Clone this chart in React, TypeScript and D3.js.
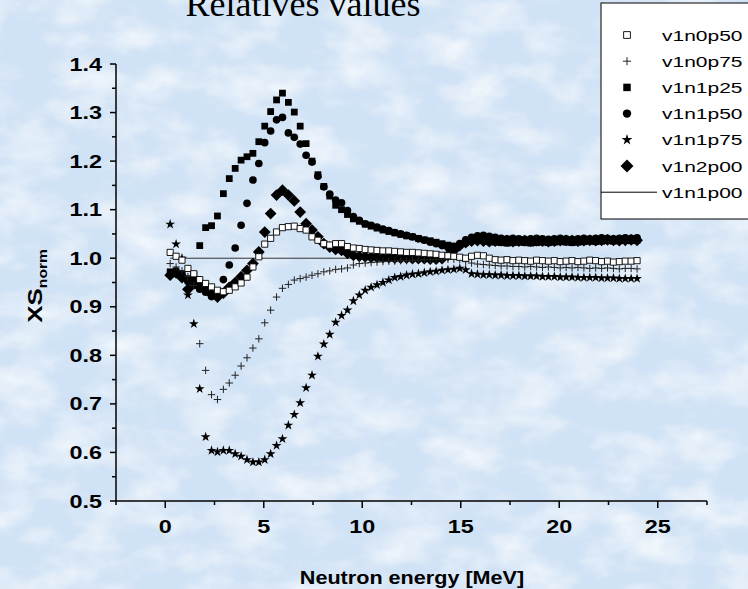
import React from "react";
import * as d3 from "d3";

// Neutron energy grid [MeV]
const energies = [
  0.25, 0.55, 0.85, 1.15, 1.45, 1.75, 2.05, 2.35, 2.65, 2.95,
  3.25, 3.55, 3.85, 4.15, 4.45, 4.75, 5.05, 5.35, 5.65, 5.95,
  6.25, 6.55, 6.85, 7.15, 7.45, 7.75, 8.05, 8.35, 8.65, 8.95,
  9.25, 9.55, 9.85, 10.15, 10.45, 10.75, 11.05, 11.35, 11.65, 11.95,
  12.25, 12.55, 12.85, 13.15, 13.45, 13.75, 14.05, 14.35, 14.65, 14.95,
  15.25, 15.55, 15.85, 16.15, 16.45, 16.75, 17.05, 17.35, 17.65, 17.95,
  18.25, 18.55, 18.85, 19.15, 19.45, 19.75, 20.05, 20.35, 20.65, 20.95,
  21.25, 21.55, 21.85, 22.15, 22.45, 22.75, 23.05, 23.35, 23.65, 23.95,
];

const v1n0p50 = [
  1.012, 1.004, 0.996, 0.979, 0.968, 0.956, 0.948, 0.941, 0.934, 0.931,
  0.934, 0.941, 0.949, 0.961, 0.982, 1.003, 1.029, 1.041, 1.054, 1.063,
  1.065, 1.066, 1.061, 1.058, 1.044, 1.037, 1.03, 1.027, 1.03, 1.03,
  1.024, 1.021, 1.02, 1.018, 1.017, 1.016, 1.015, 1.015, 1.014, 1.013,
  1.012, 1.012, 1.011, 1.01, 1.009, 1.008, 1.006, 1.005, 1.004, 1.002,
  1.0, 1.004, 1.006, 1.005, 1.0, 0.997, 0.996, 0.997, 0.995, 0.996,
  0.995, 0.994, 0.996, 0.995, 0.994, 0.995, 0.993, 0.994, 0.995, 0.993,
  0.994, 0.996, 0.995, 0.993, 0.994, 0.992, 0.993, 0.994, 0.994, 0.995,
];

const v1n0p75 = [
  0.989, 0.982, 0.974, 0.962, 0.944, 0.824, 0.769, 0.719, 0.709, 0.73,
  0.743, 0.759, 0.778, 0.795, 0.815, 0.834, 0.867, 0.893, 0.92, 0.938,
  0.946, 0.955, 0.958, 0.961, 0.965, 0.968, 0.972, 0.974, 0.977, 0.978,
  0.98, 0.986, 0.989, 0.99, 0.991, 0.992, 0.993, 0.994, 0.994, 0.995,
  0.995, 0.996, 0.996, 0.997, 0.997, 0.997, 0.998, 0.998, 0.998, 0.997,
  0.993, 0.99, 0.988, 0.987, 0.986, 0.985, 0.984, 0.984, 0.983, 0.983,
  0.982, 0.983, 0.982, 0.981, 0.982, 0.981, 0.98, 0.981, 0.98, 0.981,
  0.98, 0.979, 0.98, 0.979, 0.98, 0.979, 0.978, 0.979, 0.979, 0.978,
];

const v1n1p25 = [
  0.972, 0.968, 0.962, 0.958, 0.966, 1.026, 1.063, 1.067, 1.087, 1.133,
  1.164, 1.185, 1.202, 1.209, 1.216, 1.24, 1.272, 1.302, 1.326, 1.34,
  1.321, 1.301, 1.272, 1.236, 1.2, 1.172, 1.148, 1.128, 1.109, 1.1,
  1.09, 1.081, 1.076, 1.07, 1.066, 1.062, 1.058, 1.055, 1.052, 1.049,
  1.046, 1.044, 1.041, 1.038, 1.036, 1.033, 1.03, 1.027, 1.025, 1.027,
  1.032, 1.036, 1.038, 1.036, 1.034, 1.033, 1.032, 1.031, 1.032, 1.033,
  1.032, 1.031, 1.032, 1.033, 1.032, 1.033, 1.034, 1.033, 1.032, 1.033,
  1.034, 1.035, 1.034, 1.035, 1.036, 1.035, 1.036, 1.037, 1.036, 1.037,
];

const v1n1p50 = [
  0.966, 0.974, 0.968, 0.952, 0.944, 0.936, 0.93, 0.921, 0.925, 0.956,
  0.986, 1.021, 1.068, 1.113, 1.161, 1.195, 1.238, 1.262, 1.285, 1.29,
  1.258, 1.249, 1.235, 1.212, 1.198, 1.169, 1.147, 1.132, 1.12, 1.114,
  1.098, 1.086, 1.078, 1.071, 1.068, 1.064, 1.06, 1.057, 1.053, 1.05,
  1.047, 1.044, 1.04, 1.037, 1.033, 1.03, 1.026, 1.022, 1.024, 1.03,
  1.038, 1.043, 1.046, 1.047, 1.045, 1.043, 1.041, 1.04, 1.041, 1.04,
  1.039, 1.04, 1.041, 1.04, 1.039, 1.04, 1.041, 1.04, 1.039, 1.04,
  1.041, 1.04, 1.041, 1.042, 1.041, 1.04, 1.041, 1.042, 1.041, 1.042,
];

const v1n1p75 = [
  1.07, 1.029, 1.0, 0.924, 0.865, 0.731, 0.632, 0.604, 0.601, 0.604,
  0.604, 0.597, 0.592, 0.585, 0.58, 0.58, 0.585, 0.597, 0.614, 0.628,
  0.656, 0.678, 0.702, 0.733, 0.759, 0.798, 0.823, 0.843, 0.868, 0.882,
  0.893, 0.912, 0.924, 0.934, 0.94, 0.945, 0.95, 0.955, 0.96, 0.962,
  0.965, 0.967, 0.968, 0.97, 0.972, 0.973, 0.975, 0.976, 0.977, 0.979,
  0.976, 0.968, 0.967, 0.966, 0.966, 0.965, 0.965, 0.964, 0.964, 0.964,
  0.963, 0.963, 0.963, 0.962, 0.962, 0.962, 0.961, 0.961, 0.961, 0.96,
  0.96, 0.96, 0.96, 0.959, 0.959, 0.959, 0.958, 0.958, 0.958, 0.958,
];

const v1n2p00 = [
  0.965, 0.97, 0.96, 0.936, 0.958, 0.95, 0.94, 0.926, 0.92, 0.928,
  0.94, 0.95, 0.962, 0.975, 0.989, 1.013, 1.054, 1.092, 1.13, 1.14,
  1.13, 1.118, 1.095, 1.071, 1.058, 1.044, 1.03, 1.023, 1.018, 1.016,
  1.01, 1.006, 1.004, 1.003, 1.002, 1.002, 1.001, 1.001, 1.0, 1.0,
  1.0, 0.999, 0.999, 0.999, 0.998, 0.998, 0.999, 1.006, 1.016, 1.026,
  1.032, 1.035, 1.036, 1.035, 1.034, 1.035, 1.036, 1.035, 1.034, 1.035,
  1.036, 1.035, 1.036, 1.035, 1.034, 1.035, 1.036, 1.037, 1.036, 1.035,
  1.036, 1.037, 1.036, 1.037, 1.038, 1.037, 1.036, 1.037, 1.038, 1.037,
];

// Reference run, flat at unity, drawn as a line
const refEnergies = [0.25, 15.4];
const v1n1p00 = [1.0, 1.0];

const xTicks = [0, 5, 10, 15, 20, 25];
const xMinorTicks = [-2.5, 2.5, 7.5, 12.5, 17.5, 22.5, 27.5];
const yTicks = [0.5, 0.6, 0.7, 0.8, 0.9, 1.0, 1.1, 1.2, 1.3, 1.4];
const yMinorTicks = [0.55, 0.65, 0.75, 0.85, 0.95, 1.05, 1.15, 1.25, 1.35];

const W = 748;
const H = 589;
const SANS = "'Liberation Sans', Arial, sans-serif";

type Marker = "openSquare" | "plus" | "square" | "circle" | "star" | "diamond" | "line";

const markerPath = (m: Marker, scale = 1): string => {
  switch (m) {
    case "openSquare":
      return d3.symbol(d3.symbolSquare, 38 * scale * scale)()!;
    case "square":
      return d3.symbol(d3.symbolSquare, 46 * scale * scale)()!;
    case "circle":
      return d3.symbol(d3.symbolCircle, 46 * scale * scale)()!;
    case "star":
      return d3.symbol(d3.symbolStar, 30 * scale * scale)()!;
    case "diamond":
      return d3.symbol(d3.symbolDiamond2, 88 * scale * scale)()!;
    case "plus": {
      const r = 3.7 * scale;
      return `M${-r},0H${r}M0,${-r}V${r}`;
    }
    default:
      return "";
  }
};

const markerStyle = (m: Marker) => {
  if (m === "openSquare") return { fill: "#fff", stroke: "#000", strokeWidth: 0.9 };
  if (m === "plus") return { fill: "none", stroke: "#222", strokeWidth: 1 };
  return { fill: "#000", stroke: "none", strokeWidth: 0 };
};

const legendItems: { name: string; marker: Marker }[] = [
  { name: "v1n0p50", marker: "openSquare" },
  { name: "v1n0p75", marker: "plus" },
  { name: "v1n1p25", marker: "square" },
  { name: "v1n1p50", marker: "circle" },
  { name: "v1n1p75", marker: "star" },
  { name: "v1n2p00", marker: "diamond" },
  { name: "v1n1p00", marker: "line" },
];

// Drawing order: filled markers underneath, open markers on top
const drawSeries: { values: number[]; marker: Marker }[] = [
  { values: v1n1p25, marker: "square" },
  { values: v1n1p50, marker: "circle" },
  { values: v1n1p75, marker: "star" },
  { values: v1n2p00, marker: "diamond" },
  { values: v1n0p75, marker: "plus" },
  { values: v1n0p50, marker: "openSquare" },
];

const WideText = ({
  x, y, sx, children, anchor = "start", size, weight = "normal", family = SANS, rotate = 0,
}: {
  x: number; y: number; sx: number; children: React.ReactNode; anchor?: string;
  size: number; weight?: string; family?: string; rotate?: number;
}) => (
  <text
    transform={`translate(${x},${y})${rotate ? ` rotate(${rotate})` : ""} scale(${sx},1)`}
    textAnchor={anchor as any}
    fontSize={size}
    fontWeight={weight}
    fontFamily={family}
    fill="#000"
  >
    {children}
  </text>
);

export default function App() {
  const x = d3.scaleLinear().domain([-2.5, 27.5]).range([116, 707]);
  const y = d3.scaleLinear().domain([0.5, 1.4]).range([501, 64]);
  const x0 = x.range()[0];
  const y0 = y.range()[0];

  const refLine = d3
    .line<number>()
    .x((_, i) => x(refEnergies[i]))
    .y((d) => y(d))(v1n1p00)!;

  const legendX = 601;
  const legendY = 3;
  const rowH = 26.2;

  return (
    <svg
      width={W}
      height={H}
      viewBox={`0 0 ${W} ${H}`}
      style={{ position: "absolute", left: 0, top: 0, display: "block" }}
    >
      <defs>
        <filter id="paper" x="0" y="0" width="100%" height="100%">
          <feTurbulence type="fractalNoise" baseFrequency="0.018 0.03" numOctaves="4" seed="11" />
          <feColorMatrix
            type="matrix"
            values="0 0 0 0 1  0 0 0 0 1  0 0 0 0 1  0 0 0 1.8 -0.7"
          />
        </filter>
      </defs>

      {/* page background */}
      <rect x={0} y={0} width={W} height={H} fill="#d0e2f5" />
      <rect x={0} y={0} width={W} height={H} filter="url(#paper)" opacity={0.8} />

      {/* title */}
      <text x={303} y={16} textAnchor="middle" fontSize={36} fontFamily="'Liberation Serif', 'Times New Roman', serif" fill="#000">
        Relatives values
      </text>

      {/* reference line */}
      <path d={refLine} fill="none" stroke="#333" strokeWidth={1} />

      {/* data markers */}
      {drawSeries.map((s, si) => {
        const d = markerPath(s.marker);
        const st = markerStyle(s.marker);
        return (
          <g key={si}>
            {s.values.map((v, i) => (
              <path
                key={i}
                d={d}
                transform={`translate(${x(energies[i])},${y(v)})`}
                fill={st.fill}
                stroke={st.stroke}
                strokeWidth={st.strokeWidth}
              />
            ))}
          </g>
        );
      })}

      {/* axes */}
      <g stroke="#000" strokeWidth={1.5} fill="none">
        <line x1={x0} x2={x0} y1={y(1.4)} y2={y0} />
        <line x1={x0} x2={x.range()[1]} y1={y0} y2={y0} />
        {yTicks.map((t) => (
          <line key={`yt${t}`} x1={x0 - 6} x2={x0} y1={y(t)} y2={y(t)} />
        ))}
        {yMinorTicks.map((t) => (
          <line key={`ym${t}`} x1={x0 - 4} x2={x0} y1={y(t)} y2={y(t)} />
        ))}
        {xTicks.map((t) => (
          <line key={`xt${t}`} x1={x(t)} x2={x(t)} y1={y0} y2={y0 + 7} />
        ))}
        {xMinorTicks.map((t) => (
          <line key={`xm${t}`} x1={x(t)} x2={x(t)} y1={y0} y2={y0 + 4} />
        ))}
      </g>

      {yTicks.map((t) => (
        <WideText key={`yl${t}`} x={102} y={y(t) + 6.5} sx={1.3} anchor="end" size={18} weight="bold">
          {t.toFixed(1)}
        </WideText>
      ))}
      {xTicks.map((t) => (
        <WideText key={`xl${t}`} x={x(t)} y={y0 + 32} sx={1.3} anchor="middle" size={18} weight="bold">
          {t}
        </WideText>
      ))}

      <WideText x={412} y={584} sx={1.2} anchor="middle" size={18} weight="bold">
        Neutron energy [MeV]
      </WideText>

      <WideText x={42} y={286} sx={1.3} anchor="middle" size={20} weight="bold" rotate={-90}>
        XS
        <tspan dy={5} fontSize={12}>norm</tspan>
      </WideText>

      {/* legend */}
      <rect x={legendX} y={legendY} width={170} height={216} fill="#fff" stroke="#000" strokeWidth={1} />
      {legendItems.map((it, i) => {
        const cy = legendY + 32 + i * rowH;
        const st = markerStyle(it.marker);
        return (
          <g key={it.name}>
            {it.marker === "line" ? (
              <line x1={legendX} x2={657} y1={cy} y2={cy} stroke="#000" strokeWidth={1} />
            ) : (
              <path
                d={markerPath(it.marker, 1.1)}
                transform={`translate(627,${cy})`}
                fill={st.fill}
                stroke={it.marker === "openSquare" ? "#000" : st.stroke}
                strokeWidth={st.strokeWidth}
              />
            )}
            <WideText x={662} y={cy + 5.5} sx={1.4} size={15}>
              {it.name}
            </WideText>
          </g>
        );
      })}
    </svg>
  );
}
